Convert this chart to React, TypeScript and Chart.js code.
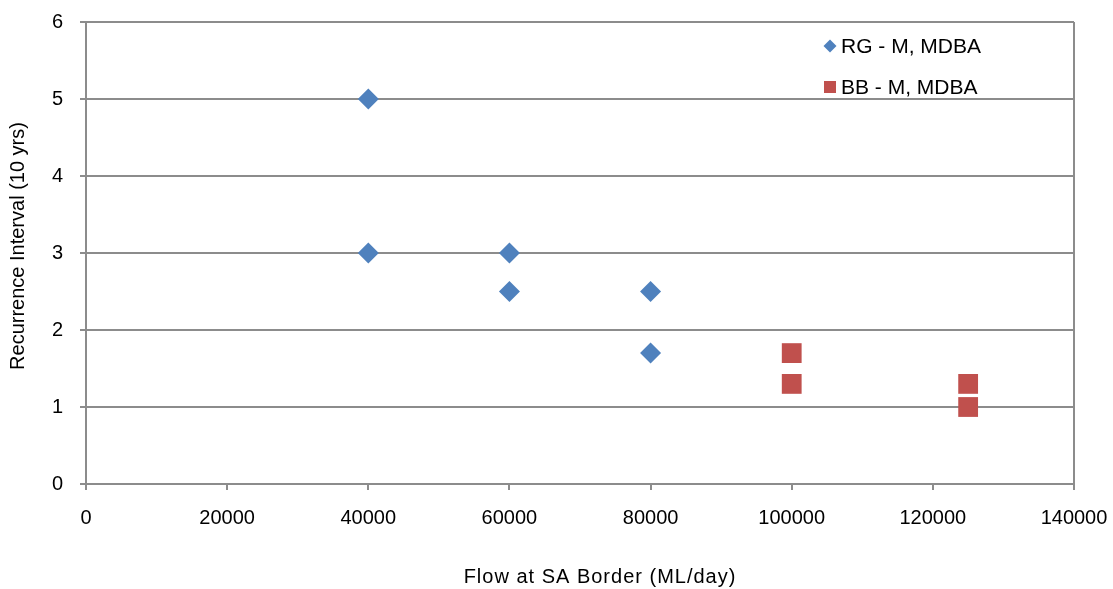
import React, { useEffect, useRef } from "react";
import { Chart, registerables } from "chart.js";

Chart.register(...registerables);

// Flow at the SA border (ML/day) and recurrence interval (per 10 years)
const rgFlow = [40000, 40000, 60000, 60000, 80000, 80000];
const rgInterval = [5, 3, 3, 2.5, 2.5, 1.7];
const bbFlow = [100000, 100000, 125000, 125000];
const bbInterval = [1.7, 1.3, 1.3, 1.0];

const seriesNames = ["RG - M, MDBA", "BB - M, MDBA"];
const seriesColors = ["#4F81BD", "#C0504D"];

const xTitle = "Flow at SA Border (ML/day)";
const yTitle = "Recurrence Interval (10 yrs)";

const FONT = "'Liberation Sans', Arial, sans-serif";
const GRID = "#8C8C8C";

// Legend, axis titles and right border drawn directly on the canvas
const overlayPlugin = {
  id: "overlay",
  afterDraw(chart: any) {
    const { ctx, chartArea } = chart;
    ctx.save();
    ctx.strokeStyle = GRID;
    ctx.lineWidth = 2;
    ctx.beginPath();
    ctx.moveTo(chartArea.right, chartArea.top);
    ctx.lineTo(chartArea.right, chartArea.bottom + 6);
    ctx.stroke();

    ctx.fillStyle = "#000";
    ctx.textBaseline = "middle";
    ctx.textAlign = "center";

    ctx.font = `20px ${FONT}`;
    ctx.letterSpacing = "1px";
    ctx.fillText(xTitle, 600, 577);
    ctx.letterSpacing = "0px";

    ctx.save();
    ctx.translate(18, 246);
    ctx.rotate(-Math.PI / 2);
    ctx.fillText(yTitle, 0, 0);
    ctx.restore();

    // legend
    ctx.font = `21px ${FONT}`;
    ctx.textAlign = "left";
    const lx = 830;
    const rows = [46, 87];
    ctx.fillStyle = seriesColors[0];
    ctx.beginPath();
    ctx.moveTo(lx - 6.5, rows[0]);
    ctx.lineTo(lx, rows[0] - 6.5);
    ctx.lineTo(lx + 6.5, rows[0]);
    ctx.lineTo(lx, rows[0] + 6.5);
    ctx.closePath();
    ctx.fill();
    ctx.fillStyle = seriesColors[1];
    ctx.fillRect(lx - 6, rows[1] - 6, 12, 12);

    ctx.fillStyle = "#000";
    ctx.fillText(seriesNames[0], lx + 11, rows[0] + 1);
    ctx.fillText(seriesNames[1], lx + 11, rows[1] + 1);
    ctx.restore();
  },
};

export default function App() {
  const canvasRef = useRef<HTMLCanvasElement>(null);

  useEffect(() => {
    document.body.style.margin = "0";
    const canvas = canvasRef.current;
    if (!canvas) return;
    const chart = new Chart(canvas, {
      type: "scatter",
      data: {
        datasets: [
          {
            label: seriesNames[0],
            data: rgFlow.map((x, i) => ({ x, y: rgInterval[i] })),
            backgroundColor: seriesColors[0],
            borderColor: seriesColors[0],
            pointStyle: "rectRot",
            pointRadius: 10.5,
            borderWidth: 0,
          },
          {
            label: seriesNames[1],
            data: bbFlow.map((x, i) => ({ x, y: bbInterval[i] })),
            backgroundColor: seriesColors[1],
            borderColor: seriesColors[1],
            pointStyle: "rect",
            pointRadius: 14,
            borderWidth: 0,
          },
        ],
      },
      options: {
        responsive: false,
        animation: false,
        layout: { padding: { top: 22, right: 39, left: 0, bottom: 0 } },
        plugins: {
          legend: { display: false },
          tooltip: { enabled: false },
        },
        scales: {
          x: {
            type: "linear",
            min: 0,
            max: 140000,
            ticks: {
              stepSize: 20000,
              color: "#000",
              font: { family: FONT, size: 20 },
              padding: 16,
              maxRotation: 0,
              callback: (v: any) => String(v),
            },
            grid: {
              display: true,
              drawOnChartArea: false,
              drawTicks: true,
              tickLength: 6,
              color: GRID,
              lineWidth: 2,
            },
            border: { display: true, color: GRID, width: 2 },
            afterFit: (scale: any) => {
              scale.height = 589 - 484;
              scale.paddingLeft = 0;
              scale.paddingRight = 0;
            },
          },
          y: {
            min: 0,
            max: 6,
            ticks: {
              stepSize: 1,
              color: "#000",
              font: { family: FONT, size: 20 },
              padding: 17,
            },
            grid: {
              color: GRID,
              lineWidth: 2,
              tickLength: 6,
              drawTicks: true,
            },
            border: { display: true, color: GRID, width: 2 },
            afterFit: (scale: any) => {
              scale.width = 86;
              scale.paddingTop = 0;
              scale.paddingBottom = 0;
            },
          },
        },
      },
      plugins: [overlayPlugin],
    });
    return () => chart.destroy();
  }, []);

  return (
    <div style={{ position: "absolute", left: 0, top: 0, width: 1113, height: 589, background: "#fff" }}>
      <canvas ref={canvasRef} width={1113} height={589} />
    </div>
  );
}
